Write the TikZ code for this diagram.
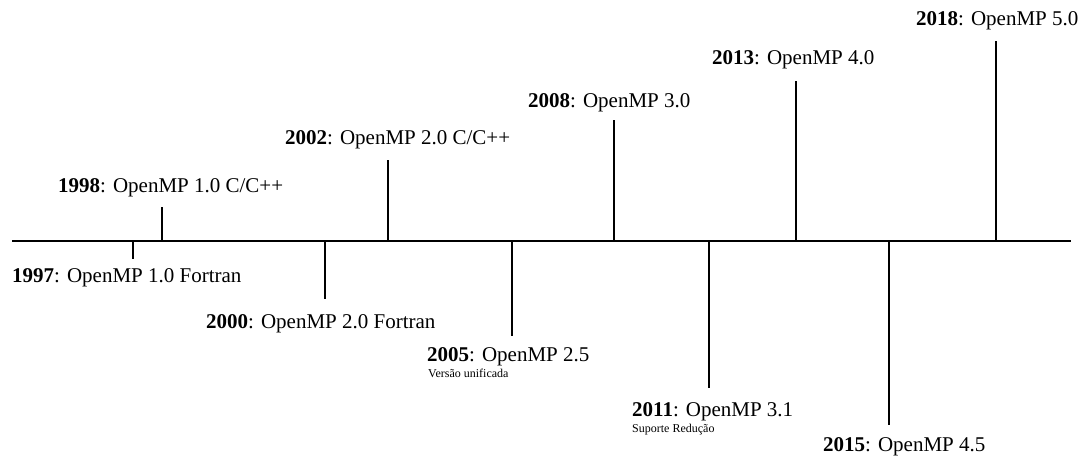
\documentclass[tikz,border=0pt]{standalone}
\usepackage{fontspec}
\setmainfont{Liberation Serif}
\usetikzlibrary{positioning, calc}

\tikzset{
  linha/.style={line width=1.8pt},
  marca/.style={line width=1.4pt},
  rotulo/.style={anchor=base west, inner sep=0pt, font=\fontsize{21}{25}\selectfont},
  nota/.style={anchor=base west, inner sep=0pt, font=\fontsize{12}{14}\selectfont},
}

\begin{document}
\begin{tikzpicture}[x=1pt, y=1pt]
  \useasboundingbox (0,-216) rectangle (1084,241);

  % --- Linha do tempo ---
  \coordinate (ini) at (12,0);
  \coordinate (fim) at (1071,0);
  \draw[linha] (ini) -- (fim);

  % --- Marcas (ano / posicao / ponta) ---
  \foreach \ano/\x/\y in {1997/133/-18, 1998/162/34, 2000/325/-58, 2002/388/81,
                          2005/512/-95, 2008/614/121, 2011/709/-147, 2013/796/160,
                          2015/889/-184, 2018/996/200}
  {
    \coordinate (m\ano) at (\x,0);
    \coordinate (p\ano) at (\x,\y);
    \draw[marca] (m\ano) -- (p\ano);
  }

  % --- Versoes acima da linha ---
  \node[rotulo] (v1998) at (58,48)   {\textbf{1998}: OpenMP 1.0 C/C++};
  \node[rotulo] (v2002) at (285,96)  {\textbf{2002}: OpenMP 2.0 C/C++};
  \node[rotulo] (v2008) at (528,133) {\textbf{2008}: OpenMP 3.0};
  \node[rotulo] (v2013) at (712,176) {\textbf{2013}: OpenMP 4.0};
  \node[rotulo] (v2018) at (916,215) {\textbf{2018}: OpenMP 5.0};

  % --- Versoes abaixo da linha ---
  \node[rotulo] (v1997) at (12,-42)   {\textbf{1997}: OpenMP 1.0 Fortran};
  \node[rotulo] (v2000) at (206,-88)  {\textbf{2000}: OpenMP 2.0 Fortran};
  \node[rotulo] (v2005) at (427,-121) {\textbf{2005}: OpenMP 2.5};
  \node[nota]   (n2005) at (428,-137) {Versão unificada};
  \node[rotulo] (v2011) at (632,-176) {\textbf{2011}: OpenMP 3.1};
  \node[nota]   (n2011) at (632,-192) {Suporte Redução};
  \node[rotulo] (v2015) at (823,-211) {\textbf{2015}: OpenMP 4.5};

\end{tikzpicture}
\end{document}
